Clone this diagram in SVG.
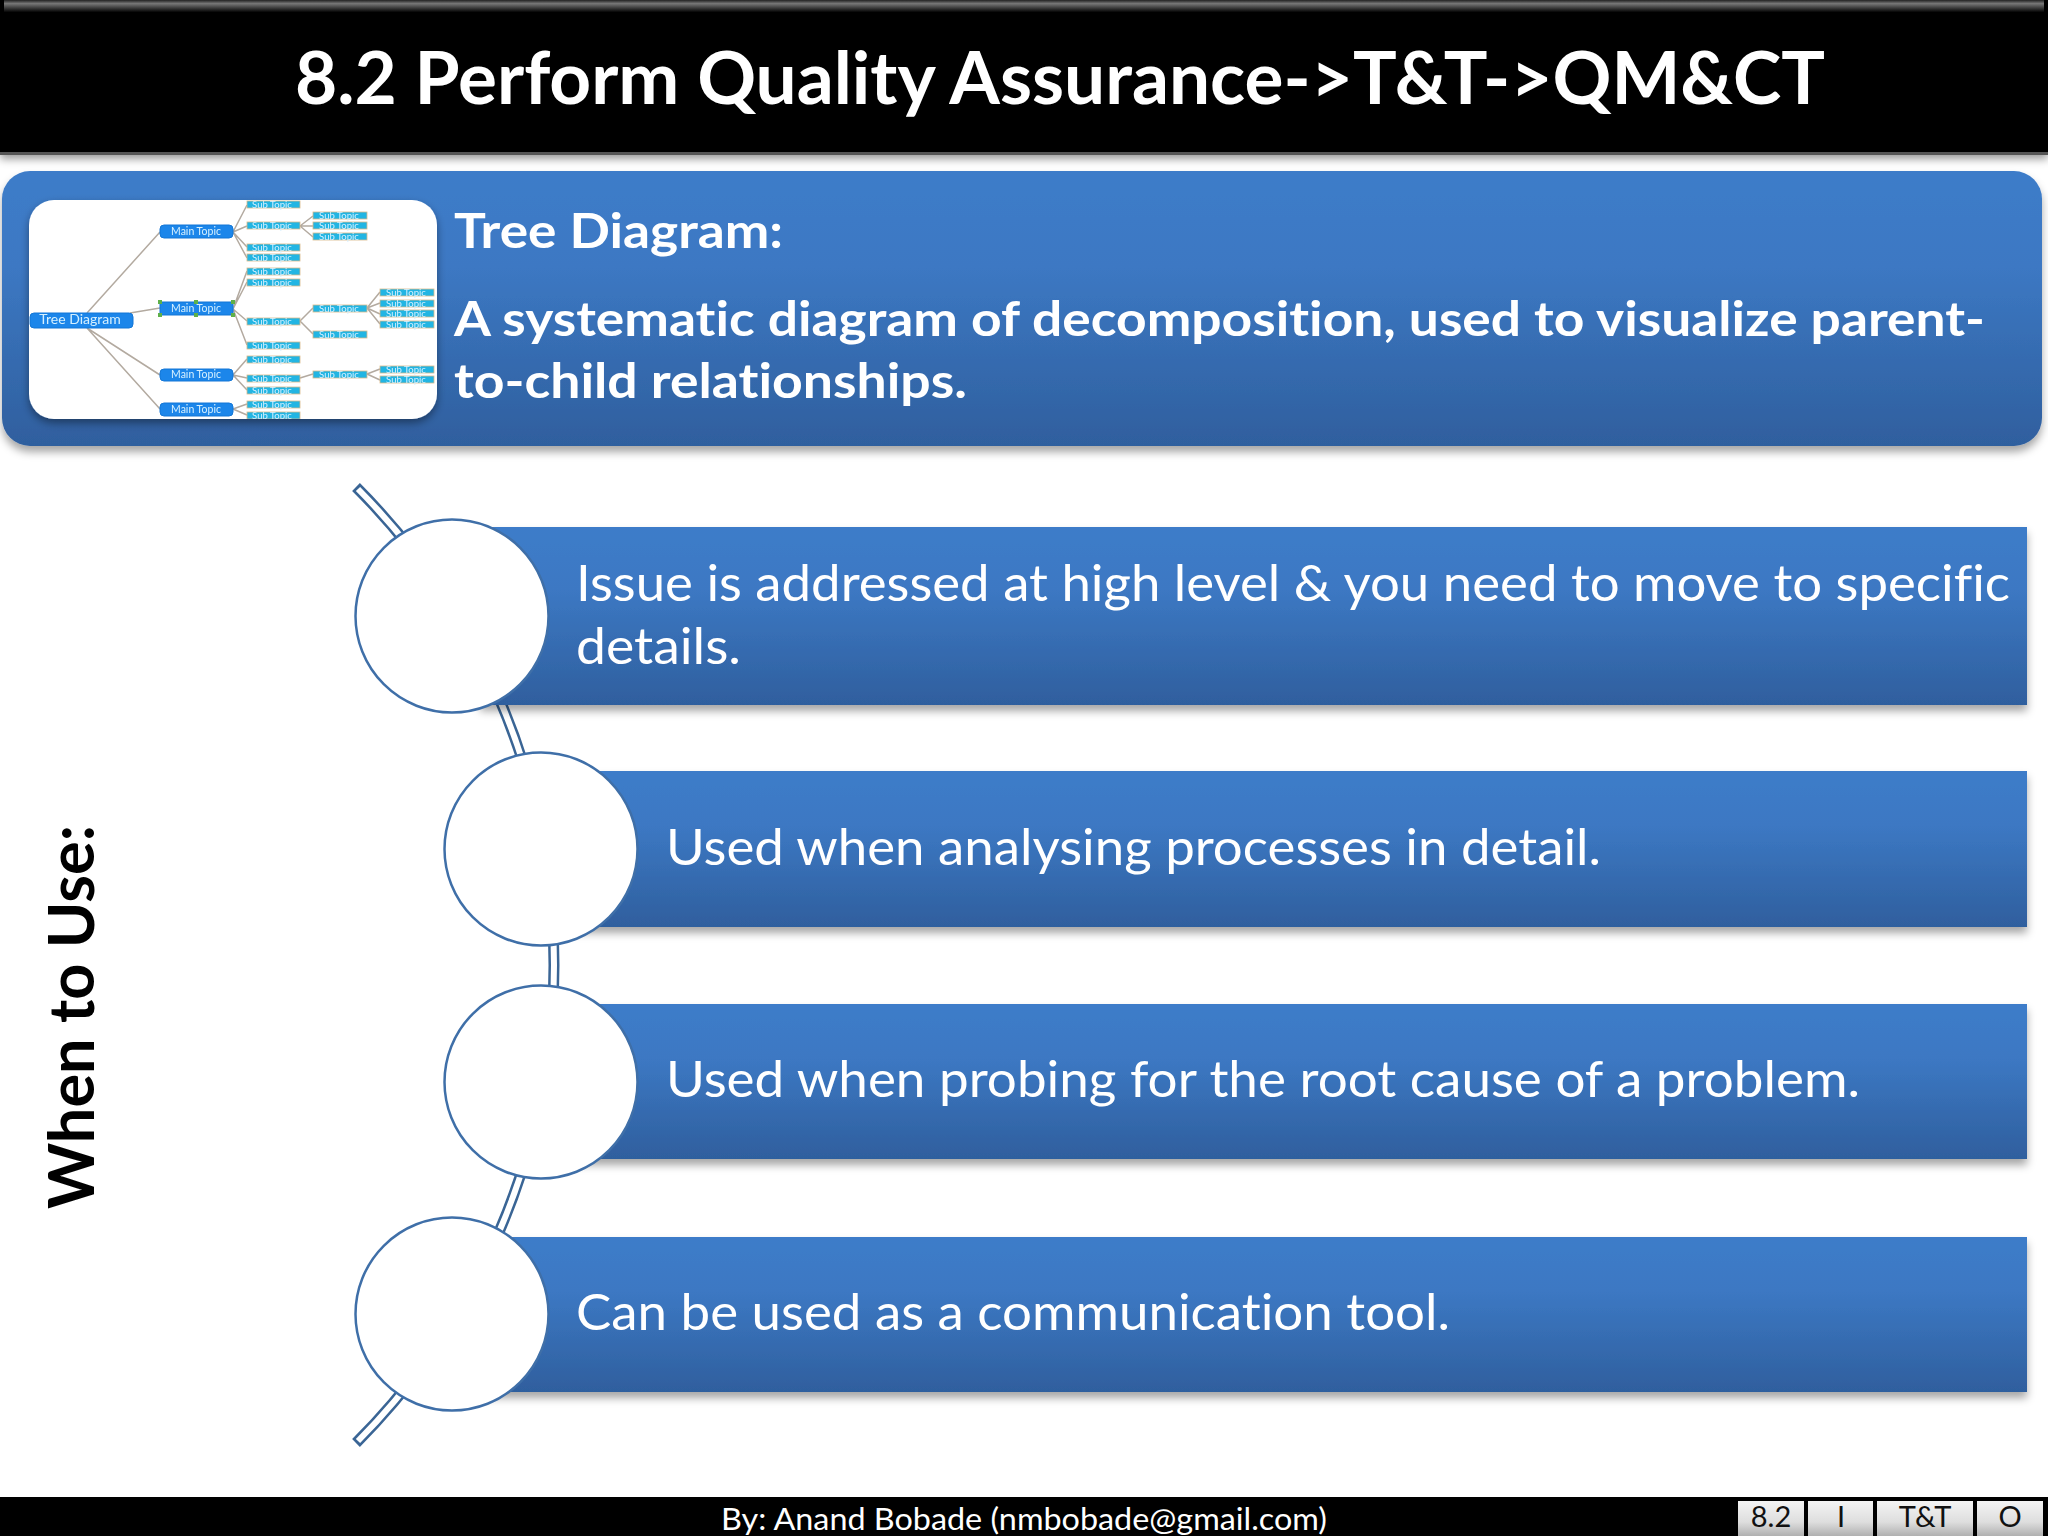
<svg xmlns="http://www.w3.org/2000/svg" width="2048" height="1536" viewBox="0 0 2048 1536">
<style>
text{font-family:"Lato","Liberation Sans",sans-serif;font-variant-ligatures:none}
.w{fill:#fff}
.b{font-weight:700}
.body{fill:#fff;font-size:50px}
.bar{fill:url(#blue);filter:url(#sh)}
.circ{fill:#fff;stroke:#3f6fa8;stroke-width:2.5}
.btn{fill:url(#btn)}
.bt{font-size:29px;fill:#111;text-anchor:middle}
.l{fill:none;stroke:#b3aaa0;stroke-width:1.5}
.mt{fill:#1c86ea;stroke:#1477d6}
.st{fill:#22b5e3;stroke:#d9b98a;stroke-width:.8}
.tt{fill:#d5f0ff;font-size:9.5px;text-anchor:middle}
.mm{font-size:10.5px}
.h{fill:#5fb04a}
</style>
<defs>
<linearGradient id="blue" x1="0" y1="0" x2="0" y2="1"><stop offset="0" stop-color="#3d7cc9"/><stop offset=".35" stop-color="#3c78c3"/><stop offset="1" stop-color="#2f5f9e"/></linearGradient>
<linearGradient id="btn" x1="0" y1="0" x2="0" y2="1"><stop offset="0" stop-color="#f4f4f4"/><stop offset=".6" stop-color="#dedede"/><stop offset="1" stop-color="#b0b0b0"/></linearGradient>
<linearGradient id="top" x1="0" y1="0" x2="0" y2="1"><stop offset="0" stop-color="#222"/><stop offset=".3" stop-color="#777"/><stop offset="1" stop-color="#050505"/></linearGradient>
<filter id="sh" x="-2%" y="-5%" width="104%" height="115%"><feDropShadow dx="0" dy="6" stdDeviation="4" flood-color="#000" flood-opacity=".35"/></filter>
<filter id="sh2" x="-2%" y="-5%" width="104%" height="115%"><feDropShadow dx="0" dy="4" stdDeviation="4" flood-color="#000" flood-opacity=".4"/></filter>
<filter id="soft"><feGaussianBlur stdDeviation=".55"/></filter>
<clipPath id="thumb"><rect x="29" y="200" width="408" height="219" rx="25"/></clipPath>
</defs>
<rect width="2048" height="1536" fill="#fff"/>

<g id="header">
<rect x="0" y="0" width="2048" height="155" fill="#040404" filter="url(#sh2)"/>
<rect x="0" y="152" width="2048" height="3" fill="#555"/>
<rect x="4" y="0" width="2040" height="12" fill="url(#top)"/>
<text class="w b" x="295" y="104" font-size="72" textLength="1530" lengthAdjust="spacingAndGlyphs">8.2 Perform Quality Assurance-&gt;T&amp;T-&gt;QM&amp;CT</text>
</g>

<g id="definition">
<rect x="2" y="171" width="2040" height="275" rx="28" class="bar"/>
<g id="thumbnail">
<rect x="29" y="200" width="408" height="219" rx="25" fill="#fff" filter="url(#sh2)"/>
<g clip-path="url(#thumb)"><g filter="url(#soft)">
<path class="l" d="M87 313L160 232M130 313L160 308M87 328L160 375M87 328L160 409M233 232L247 205M233 232L247 226M233 232L247 247M233 232L247 258M233 309L247 271M233 309L247 282M233 309L247 321M233 309L247 345M233 375L247 359M233 375L247 378M233 375L247 390M233 409L247 404M233 409L247 415M300 226L313 216M300 226L313 226M300 226L313 237M300 321L313 308M300 321L313 334M367 308L380 292M367 308L380 303M367 308L380 314M367 308L380 324M300 378L313 374M367 374L380 369M367 374L380 380"/>
<rect class="mt" x="30" y="313" width="103" height="15" rx="4"/>
<text class="tt" x="80" y="324" style="font-size:14px">Tree Diagram</text>
<rect class="mt" x="160" y="225" width="73" height="13" rx="4"/><text class="tt mm" x="196" y="235">Main Topic</text>
<rect class="mt" x="160" y="302" width="73" height="13"/><text class="tt mm" x="196" y="312">Main Topic</text>
<rect class="mt" x="160" y="369" width="73" height="12" rx="4"/><text class="tt mm" x="196" y="378">Main Topic</text>
<rect class="mt" x="160" y="403" width="73" height="13" rx="4"/><text class="tt mm" x="196" y="413">Main Topic</text>
<rect class="h" x="158" y="300" width="4" height="4"/><rect class="h" x="158" y="313" width="4" height="4"/><rect class="h" x="194" y="300" width="4" height="4"/><rect class="h" x="194" y="313" width="4" height="4"/><rect class="h" x="231" y="300" width="4" height="4"/><rect class="h" x="231" y="313" width="4" height="4"/>
<rect class="st" x="247" y="201" width="53" height="7"/><text class="tt" x="272" y="208">Sub Topic</text>
<rect class="st" x="247" y="222" width="53" height="7"/><text class="tt" x="272" y="229">Sub Topic</text>
<rect class="st" x="247" y="244" width="53" height="7"/><text class="tt" x="272" y="251">Sub Topic</text>
<rect class="st" x="247" y="254" width="53" height="7"/><text class="tt" x="272" y="261">Sub Topic</text>
<rect class="st" x="247" y="268" width="53" height="7"/><text class="tt" x="272" y="275">Sub Topic</text>
<rect class="st" x="247" y="279" width="53" height="7"/><text class="tt" x="272" y="286">Sub Topic</text>
<rect class="st" x="247" y="318" width="53" height="7"/><text class="tt" x="272" y="325">Sub Topic</text>
<rect class="st" x="247" y="342" width="53" height="7"/><text class="tt" x="272" y="349">Sub Topic</text>
<rect class="st" x="247" y="356" width="53" height="7"/><text class="tt" x="272" y="363">Sub Topic</text>
<rect class="st" x="247" y="375" width="53" height="7"/><text class="tt" x="272" y="382">Sub Topic</text>
<rect class="st" x="247" y="387" width="53" height="7"/><text class="tt" x="272" y="394">Sub Topic</text>
<rect class="st" x="247" y="401" width="53" height="7"/><text class="tt" x="272" y="408">Sub Topic</text>
<rect class="st" x="247" y="412" width="53" height="7"/><text class="tt" x="272" y="419">Sub Topic</text>
<rect class="st" x="313" y="212" width="54" height="7"/><text class="tt" x="339" y="219">Sub Topic</text>
<rect class="st" x="313" y="222" width="54" height="7"/><text class="tt" x="339" y="229">Sub Topic</text>
<rect class="st" x="313" y="233" width="54" height="7"/><text class="tt" x="339" y="240">Sub Topic</text>
<rect class="st" x="313" y="305" width="54" height="7"/><text class="tt" x="339" y="312">Sub Topic</text>
<rect class="st" x="313" y="331" width="54" height="7"/><text class="tt" x="339" y="338">Sub Topic</text>
<rect class="st" x="313" y="371" width="54" height="7"/><text class="tt" x="339" y="378">Sub Topic</text>
<rect class="st" x="380" y="289" width="54" height="7"/><text class="tt" x="406" y="296">Sub Topic</text>
<rect class="st" x="380" y="300" width="54" height="7"/><text class="tt" x="406" y="307">Sub Topic</text>
<rect class="st" x="380" y="310" width="54" height="7"/><text class="tt" x="406" y="317">Sub Topic</text>
<rect class="st" x="380" y="321" width="54" height="7"/><text class="tt" x="406" y="328">Sub Topic</text>
<rect class="st" x="380" y="366" width="54" height="7"/><text class="tt" x="406" y="373">Sub Topic</text>
<rect class="st" x="380" y="376" width="54" height="7"/><text class="tt" x="406" y="383">Sub Topic</text>
</g></g>
</g>
<text class="w b" x="454" y="248" font-size="48" textLength="329" lengthAdjust="spacingAndGlyphs">Tree Diagram:</text>
<text class="w b" x="454" y="336" font-size="48" textLength="1531" lengthAdjust="spacingAndGlyphs">A systematic diagram of decomposition, used to visualize parent-</text>
<text class="w b" x="454" y="398" font-size="48" textLength="513" lengthAdjust="spacingAndGlyphs">to-child relationships.</text>
</g>

<g id="connectors">
<path d="M356 487A676 676 0 0 1 356 1443" fill="none" stroke="#3a6595" stroke-width="11"/>
<path d="M358 489A676 676 0 0 1 358 1441" fill="none" stroke="#fff" stroke-width="6"/>
</g>

<g id="row1">
<rect x="480" y="527" width="1547" height="178" class="bar"/>
<circle cx="452" cy="616" r="96.5" class="circ"/>
<text class="body" x="576" y="601" textLength="1434" lengthAdjust="spacingAndGlyphs">Issue is addressed at high level &amp; you need to move to specific</text>
<text class="body" x="576" y="664" textLength="165" lengthAdjust="spacingAndGlyphs">details.</text>
</g>
<g id="row2">
<rect x="570" y="771" width="1457" height="156" class="bar"/>
<circle cx="541" cy="849" r="96.5" class="circ"/>
<text class="body" x="666" y="865" textLength="935" lengthAdjust="spacingAndGlyphs">Used when analysing processes in detail.</text>
</g>
<g id="row3">
<rect x="570" y="1004" width="1457" height="155" class="bar"/>
<circle cx="541" cy="1082" r="96.5" class="circ"/>
<text class="body" x="666" y="1097" textLength="1194" lengthAdjust="spacingAndGlyphs">Used when probing for the root cause of a problem.</text>
</g>
<g id="row4">
<rect x="480" y="1237" width="1547" height="155" class="bar"/>
<circle cx="452" cy="1314" r="96.5" class="circ"/>
<text class="body" x="576" y="1330" textLength="874" lengthAdjust="spacingAndGlyphs">Can be used as a communication tool.</text>
</g>

<g id="side-label">
<text class="b" transform="translate(94 1209) rotate(-90)" font-size="64" fill="#000" textLength="384" lengthAdjust="spacingAndGlyphs">When to Use:</text>
</g>

<g id="footer">
<rect x="0" y="1497" width="2048" height="39" fill="#000"/>
<text class="w" x="721" y="1530" font-size="30" textLength="606" lengthAdjust="spacingAndGlyphs">By: Anand Bobade (nmbobade@gmail.com)</text>
<g id="btn-8-2"><rect class="btn" x="1738" y="1501" width="66" height="35"/><text class="bt" x="1771" y="1527">8.2</text></g>
<g id="btn-i"><rect class="btn" x="1808" y="1501" width="65" height="35"/><text class="bt" x="1841" y="1527">I</text></g>
<g id="btn-tt"><rect class="btn" x="1877" y="1501" width="96" height="35"/><text class="bt" x="1925" y="1527">T&amp;T</text></g>
<g id="btn-o"><rect class="btn" x="1977" y="1501" width="66" height="35"/><text class="bt" x="2010" y="1527">O</text></g>
</g>
</svg>
